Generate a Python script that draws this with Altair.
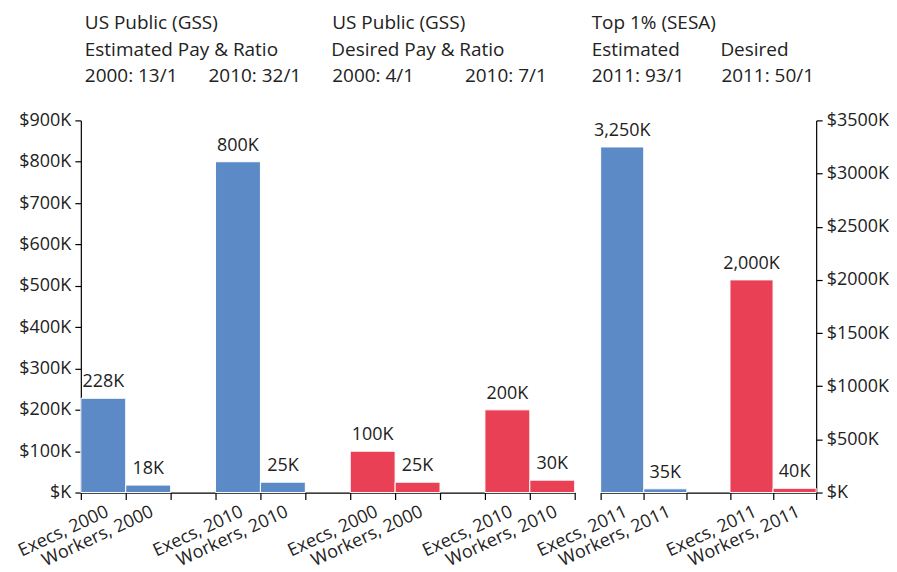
import altair as alt
import pandas as pd

FONT = "Open Sans"

# ---- data ----
left_labels = ["Execs, 2000", "Workers, 2000", "Execs, 2010", "Workers, 2010",
               "Execs, 2000", "Workers, 2000", "Execs, 2010", "Workers, 2010"]
left_values = [228, 18, 800, 25, 100, 25, 200, 30]
left_series = ["Estimated", "Estimated", "Estimated", "Estimated",
               "Desired", "Desired", "Desired", "Desired"]

right_labels = ["Execs, 2011", "Workers, 2011", "Execs, 2011", "Workers, 2011"]
right_values = [3250, 35, 2000, 40]
right_series = ["Estimated", "Estimated", "Desired", "Desired"]

left_ticks = list(range(0, 1000, 100))
right_ticks = list(range(0, 4000, 500))

left_header = [
    ["US Public (GSS)", "Estimated Pay & Ratio", "2000: 13/1", "2010: 32/1"],
    ["US Public (GSS)", "Desired Pay & Ratio", "2000: 4/1", "2010: 7/1"],
]
right_header = ["Top 1% (SESA)", "Estimated", "2011: 93/1", "Desired", "2011: 50/1"]

series_names = ["Estimated", "Desired"]
series_colors = ["#5B8AC6", "#E94055"]


def build(labels, values, series):
    rows, domain = [], []
    for i, (l, v, s) in enumerate(zip(labels, values, series)):
        key = f"{l}|{i}"
        if i > 0 and i % 2 == 0:
            domain.append(f"|gap{i}")
        domain.append(key)
        rows.append(dict(key=key, value=v, series=s, text=f"{v:,}K"))
    return pd.DataFrame(rows), domain


def panel(labels, values, series, ticks, ymax, orient, width, headers):
    df, domain = build(labels, values, series)
    x = alt.X(
        "key:N",
        sort=domain,
        scale=alt.Scale(domain=domain, paddingInner=0, paddingOuter=0),
        axis=alt.Axis(
            title=None,
            labelAngle=-25,
            labelExpr="isString(datum.value) ? split(datum.value, '|')[0] : ''",
            tickBand="extent",
            labelOverlap=False,
            labelBound=False,
            tickSize=7,
            labelPadding=3,
        ),
    )
    y = alt.Y(
        "value:Q",
        scale=alt.Scale(domain=[0, ymax], nice=False),
        axis=alt.Axis(
            title=None,
            orient=orient,
            values=ticks,
            grid=False,
            tickSize=6,
            labelPadding=4,
            labelExpr="'$' + (datum.value == 0 ? '' : datum.value) + 'K'",
        ),
    )
    base = alt.Chart(df)
    bars = base.mark_bar(stroke="white", strokeWidth=1).encode(
        x=x,
        y=y,
        color=alt.Color("series:N", scale=alt.Scale(domain=series_names, range=series_colors), legend=None),
    )
    texts = base.mark_text(dy=-11, baseline="alphabetic", font=FONT, fontSize=18, color="#222").encode(
        x=x, y=y, text="text:N"
    )
    layers = [bars, texts]
    for (txt, xp, yp) in headers:
        layers.append(
            alt.Chart(pd.DataFrame({"t": [txt]})).mark_text(
                align="left", baseline="alphabetic", font=FONT, fontSize=19, color="#222"
            ).encode(x=alt.value(xp), y=alt.value(yp), text="t:N")
        )
    return alt.layer(*layers).properties(width=width, height=373)


lh = [
    (left_header[0][0], 4, -92), (left_header[0][1], 4, -65),
    (left_header[0][2], 4, -38), (left_header[0][3], 128, -38),
    (left_header[1][0], 252, -92), (left_header[1][1], 251, -65),
    (left_header[1][2], 252, -38), (left_header[1][3], 385, -38),
]
rh = [
    (right_header[0], -9, -92), (right_header[1], -9, -65),
    (right_header[2], -9, -38), (right_header[3], 120, -65),
    (right_header[4], 121, -38),
]

left = panel(left_labels, left_values, left_series, left_ticks, 900, "left", 495, lh)
right = panel(right_labels, right_values, right_series, right_ticks, 3500, "right", 216, rh)

chart = alt.hconcat(left, right, spacing=26, bounds="flush").resolve_scale(
    x="independent", y="independent", color="shared"
).configure_view(stroke=None).configure_axis(
    labelFont=FONT, labelFontSize=18, labelColor="#222",
    domainColor="#000", tickColor="#000", domainWidth=1.2, tickWidth=1.2,
).properties(padding={"left": 7, "top": 5, "right": 0, "bottom": 0})

chart.save("out.html", embed_options={"renderer": "svg", "actions": False})
